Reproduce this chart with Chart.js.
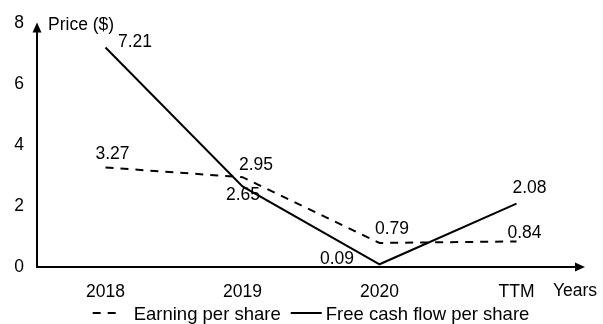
<!DOCTYPE html>
<html>
<head>
<meta charset="utf-8">
<script src="https://cdn.jsdelivr.net/npm/chart.js@4/dist/chart.umd.min.js"></script>
<style>
  html, body { margin: 0; padding: 0; background: #fff; }
  #wrap { width: 603px; height: 324px; }
</style>
</head>
<body>
<div id="wrap"><canvas id="c" width="603" height="324"></canvas></div>
<script>
// Categories and per-share values
const years = ['2018', '2019', '2020', 'TTM'];
const earningPerShare = [3.27, 2.95, 0.79, 0.84];
const freeCashFlowPerShare = [7.21, 2.65, 0.09, 2.08];
const yTickValues = [0, 2, 4, 6, 8];

const FONT = '"Liberation Sans", Arial, Helvetica, sans-serif';
const TEXT_PX = 17.5;
const LEGEND_PX = 18.5;

// Value label placement relative to each point: [dx, dy]
const epsLabelOffsets = [[7, -13], [13.5, -12], [12.5, -13.5], [8, -8.5]];
const fcfLabelOffsets = [[29.5, -5], [0.5, 9], [-42.5, -5], [13, -15.5]];

const axesAndLabels = {
  id: 'axesAndLabels',
  afterDraw(chart) {
    const ctx = chart.ctx;
    const area = chart.chartArea;
    const y = chart.scales.y;
    const x0 = area.left;
    const y0 = y.getPixelForValue(0);
    const yTop = y.getPixelForValue(8);
    const xEnd = area.right;
    ctx.save();
    ctx.strokeStyle = '#000';
    ctx.fillStyle = '#000';
    ctx.lineWidth = 2;
    ctx.setLineDash([]);

    // vertical axis with arrow head
    ctx.beginPath();
    ctx.moveTo(x0, y0 + 1);
    ctx.lineTo(x0, yTop + 8);
    ctx.stroke();
    ctx.beginPath();
    ctx.moveTo(x0, yTop - 1);
    ctx.lineTo(x0 - 4.5, yTop + 9);
    ctx.lineTo(x0 + 4.5, yTop + 9);
    ctx.closePath();
    ctx.fill();

    // horizontal axis with arrow head
    ctx.beginPath();
    ctx.moveTo(x0 - 1, y0);
    ctx.lineTo(xEnd - 8, y0);
    ctx.stroke();
    ctx.beginPath();
    ctx.moveTo(xEnd, y0);
    ctx.lineTo(xEnd - 10, y0 - 4.5);
    ctx.lineTo(xEnd - 10, y0 + 4.5);
    ctx.closePath();
    ctx.fill();

    // axis titles
    ctx.font = TEXT_PX + 'px ' + FONT;
    ctx.textBaseline = 'middle';
    ctx.textAlign = 'left';
    ctx.fillText('Price ($)', x0 + 11, yTop + 1.5);
    ctx.fillText('Years', xEnd - 32, y0 + 24.5);

    // value labels
    const offsets = [epsLabelOffsets, fcfLabelOffsets];
    chart.data.datasets.forEach((ds, di) => {
      const meta = chart.getDatasetMeta(di);
      meta.data.forEach((pt, i) => {
        const [dx, dy] = offsets[di][i];
        ctx.textAlign = 'center';
        ctx.fillText(ds.data[i].toFixed(2), pt.x + dx, pt.y + dy);
      });
    });

    // legend centred under the plot
    ctx.font = LEGEND_PX + 'px ' + FONT;
    const items = chart.data.datasets.map(ds => ({
      label: ds.label,
      dash: ds.borderDash || [],
      sample: ds.borderDash ? 24 : 31,
      gap: ds.borderDash ? 17 : 4
    }));
    const spacing = 10;
    let total = 0;
    items.forEach((it, i) => {
      it.textW = ctx.measureText(it.label).width;
      total += it.sample + it.gap + it.textW + (i ? spacing : 0);
    });
    let lx = (area.left + area.right) / 2 - total / 2;
    const ly = 313;
    items.forEach((it, i) => {
      if (i) lx += spacing;
      ctx.setLineDash(it.dash);
      ctx.lineWidth = 2;
      ctx.beginPath();
      ctx.moveTo(lx, ly);
      ctx.lineTo(lx + it.sample, ly);
      ctx.stroke();
      ctx.setLineDash([]);
      lx += it.sample + it.gap;
      ctx.textAlign = 'left';
      ctx.fillText(it.label, lx, ly + 2);
      lx += it.textW;
    });
    ctx.restore();
  }
};

new Chart(document.getElementById('c'), {
  type: 'line',
  data: {
    labels: years,
    datasets: [
      {
        label: 'Earning per share',
        data: earningPerShare,
        borderColor: '#000',
        borderWidth: 2,
        borderDash: [8, 7],
        pointRadius: 0,
        tension: 0,
        fill: false
      },
      {
        label: 'Free cash flow per share',
        data: freeCashFlowPerShare,
        borderColor: '#000',
        borderWidth: 2,
        pointRadius: 0,
        tension: 0,
        fill: false
      }
    ]
  },
  options: {
    responsive: false,
    animation: false,
    devicePixelRatio: 1,
    layout: { padding: { left: 0, right: 18, top: 19, bottom: 0 } },
    plugins: { legend: { display: false }, tooltip: { enabled: false } },
    scales: {
      x: {
        offset: true,
        grid: { display: false, drawTicks: false },
        border: { display: false },
        ticks: {
          color: '#000',
          font: { family: FONT, size: TEXT_PX },
          padding: 15,
          maxRotation: 0
        },
        afterFit(scale) { scale.height = 57; }
      },
      y: {
        min: 0,
        max: 8,
        grid: { display: false, drawTicks: false },
        border: { display: false },
        afterBuildTicks(scale) { scale.ticks = yTickValues.map(v => ({ value: v })); },
        ticks: {
          color: '#000',
          font: { family: FONT, size: TEXT_PX },
          padding: 13
        },
        afterFit(scale) { scale.width = 37; }
      }
    }
  },
  plugins: [axesAndLabels]
});
</script>
</body>
</html>
